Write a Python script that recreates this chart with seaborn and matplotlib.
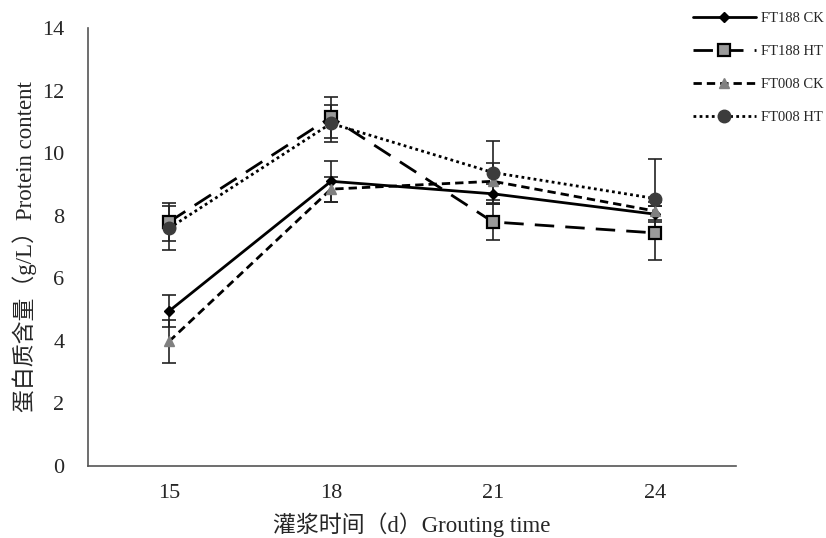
import matplotlib
matplotlib.use("Agg")
import matplotlib.pyplot as plt
import seaborn as sns
import pandas as pd
import numpy as np

days = ["15", "18", "21", "24"]
series = ["FT188 CK", "FT188 HT", "FT008 CK", "FT008 HT"]
ft188_ck = [4.95, 9.10, 8.70, 8.05]
ft188_ck_err = [0.50, 0.65, 0.30, 0.25]
ft188_ht = [7.80, 11.15, 7.80, 7.45]
ft188_ht_err = [0.60, 0.65, 0.58, 0.85]
ft008_ck = [3.98, 8.85, 9.10, 8.15]
ft008_ck_err = [0.70, 0.40, 0.60, 0.30]
ft008_ht = [7.60, 10.95, 9.38, 8.55]
ft008_ht_err = [0.70, 0.60, 1.00, 1.25]

values = [ft188_ck, ft188_ht, ft008_ck, ft008_ht]
errors = [ft188_ck_err, ft188_ht_err, ft008_ck_err, ft008_ht_err]

rows = []
for s, v, e in zip(series, values, errors):
    for i, (d, y, err) in enumerate(zip(days, v, e)):
        rows.append({"series": s, "pos": i, "day": d, "value": y, "err": err})
df = pd.DataFrame(rows)

sns.set_theme(style="white")
serif = ["Liberation Serif", "Noto Sans CJK SC", "DejaVu Sans"]
plt.rcParams["font.family"] = serif

fig = plt.figure(figsize=(8.26, 5.38), dpi=100)
ax = fig.add_axes([88/826, 1-466/538, (736-88)/826, (466-28)/538])

styles = {
    "FT188 CK": dict(dashes=None, marker="D", ms=5.5, mfc="black", mec="black", mew=1.0),
    "FT188 HT": dict(dashes=(7, 4), marker="s", ms=8, mfc="#9a9a9a", mec="black", mew=1.6),
    "FT008 CK": dict(dashes=(3, 1.8), marker="^", ms=7.5, mfc="#808080", mec="#808080", mew=1.0),
    "FT008 HT": dict(dashes=(1, 1.2), marker="o", ms=9, mfc="#3c3c3c", mec="#3c3c3c", mew=1.0),
}

handles = []
for s in series:
    sub = df[df["series"] == s]
    st = styles[s]
    ax.errorbar(sub["pos"], sub["value"], yerr=sub["err"], fmt="none",
                ecolor="#222222", elinewidth=1.2, capsize=5, capthick=1.2, zorder=2)
    sns.lineplot(data=sub, x="pos", y="value", ax=ax, color="black", lw=2.0,
                 marker=st["marker"], markersize=st["ms"], markerfacecolor=st["mfc"],
                 markeredgecolor=st["mec"], markeredgewidth=st["mew"],
                 errorbar=None, zorder=3, label=s)
    line = ax.lines[-1]
    if st["dashes"] is not None:
        line.set_dashes(st["dashes"])
    handles.append(line)

ax.set_xlim(-0.5, 3.5)
ax.set_ylim(0, 14)
ax.set_yticks(np.arange(0, 15, 2))
ax.set_yticklabels([str(v) for v in range(0, 15, 2)], fontsize=16)
ax.set_xticks([-0.5, 0.5, 1.5, 2.5, 3.5])
ax.set_xticklabels([])
ax.set_xticks(range(len(days)), minor=True)
ax.set_xticklabels(days, minor=True, fontsize=16)
ax.tick_params(axis="x", which="major", direction="in", length=5, color="#555555", width=1)
ax.tick_params(axis="x", which="minor", length=0, pad=13)
ax.tick_params(axis="y", direction="in", length=3, color="#555555", width=1, pad=17)

for side in ["top", "right"]:
    ax.spines[side].set_visible(False)
for side in ["left", "bottom"]:
    ax.spines[side].set_color("#555555")
    ax.spines[side].set_linewidth(1.2)

ax.set_xlabel("灌浆时间（d）Grouting time", fontsize=16.5, labelpad=7)
ax.set_ylabel("蛋白质含量（g/L）Protein content", fontsize=16.5, labelpad=4)

leg = ax.legend(handles=handles, labels=series, loc="upper left",
                bbox_to_anchor=(687/826, 1-6/538), bbox_transform=fig.transFigure,
                frameon=False, fontsize=10.5, handlelength=4.3, labelspacing=1.36,
                handletextpad=0.35, borderaxespad=0)

fig.savefig("out.png", dpi=100)
